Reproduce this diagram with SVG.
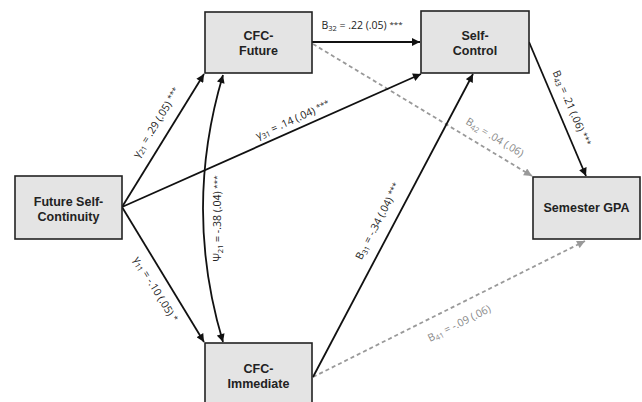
<svg xmlns="http://www.w3.org/2000/svg" width="642" height="402" viewBox="0 0 642 402">
<style>
.box{fill:#e4e4e4;stroke:#222;stroke-width:1.6}
.nt{font-family:"Liberation Sans",Arial,sans-serif;font-weight:bold;font-size:12.5px;fill:#222;text-anchor:middle}
.ln{fill:none;stroke:#111;stroke-width:1.8}
.dl{fill:none;stroke:#999;stroke-width:1.8;stroke-dasharray:4 3}
.lb{font-family:"Open Sans","Liberation Sans",sans-serif;font-size:10.5px;fill:#222;text-anchor:middle}
.lg{font-family:"Open Sans","Liberation Sans",sans-serif;font-size:10.5px;fill:#888;text-anchor:middle}
.sb{font-size:7.5px}
.st{font-size:8px}
</style>
<defs>
<marker id="ah" viewBox="0 0 10 10" refX="10" refY="5" markerWidth="9" markerHeight="8" markerUnits="userSpaceOnUse" orient="auto-start-reverse"><path d="M0,0 L10,5 L0,10 z" fill="#111"/></marker>
<marker id="ag" viewBox="0 0 10 10" refX="10" refY="5" markerWidth="9" markerHeight="8" markerUnits="userSpaceOnUse" orient="auto"><path d="M0,0 L10,5 L0,10 z" fill="#999"/></marker>
</defs>
<g id="connectors">
<path class="dl" d="M313,44 L532,176" marker-end="url(#ag)"/>
<path class="dl" d="M313,377 L585,241" marker-end="url(#ag)"/>
<path class="ln" d="M122,207 L204,74" marker-end="url(#ah)"/>
<path class="ln" d="M122,207 L421,74" marker-end="url(#ah)"/>
<path class="ln" d="M122,207 L204,342" marker-end="url(#ah)"/>
<path class="ln" d="M223,75 Q183,209 223,342" marker-start="url(#ah)" marker-end="url(#ah)"/>
<path class="ln" d="M312,42 L420,42" marker-end="url(#ah)"/>
<path class="ln" d="M529,42 L586,176" marker-end="url(#ah)"/>
<path class="ln" d="M313,377 L473,74" marker-end="url(#ah)"/>
<text class="lb" transform="translate(156,122.5) rotate(-58.3)" y="4">γ<tspan class="sb" dy="2">21</tspan><tspan dy="-2"> = .29 (.05) </tspan><tspan class="st" dy="-2">***</tspan></text>
<text class="lb" transform="translate(292.5,119.5) rotate(-24.1)" y="4">γ<tspan class="sb" dy="2">31</tspan><tspan dy="-2"> = .14 (.04) </tspan><tspan class="st" dy="-2">***</tspan></text>
<text class="lb" transform="translate(156,289) rotate(58.7)" y="4">γ<tspan class="sb" dy="2">11</tspan><tspan dy="-2"> = -.10 (.05) </tspan><tspan class="st" dy="-2">*</tspan></text>
<text class="lb" transform="translate(217,218.5) rotate(-90)" y="4">Ψ<tspan class="sb" dy="2">21</tspan><tspan dy="-2"> = -.38 (.04) </tspan><tspan class="st" dy="-2">***</tspan></text>
<text class="lb" x="362" y="29">B<tspan class="sb" dy="2">32</tspan><tspan dy="-2"> = .22 (.05) </tspan><tspan class="st" dy="-2">***</tspan></text>
<text class="lg" transform="translate(495,137) rotate(31.1)" y="4">B<tspan class="sb" dy="2">42</tspan><tspan dy="-2"> = .04 (.06)</tspan></text>
<text class="lb" transform="translate(572,108) rotate(67)" y="4">B<tspan class="sb" dy="2">43</tspan><tspan dy="-2"> = .21 (.06) </tspan><tspan class="st" dy="-2">***</tspan></text>
<text class="lb" transform="translate(377.5,221) rotate(-62.5)" y="4">B<tspan class="sb" dy="2">31</tspan><tspan dy="-2"> = -.34 (.04) </tspan><tspan class="st" dy="-2">***</tspan></text>
<text class="lg" transform="translate(459,323) rotate(-26.6)" y="4">B<tspan class="sb" dy="2">41</tspan><tspan dy="-2"> = -.09 (.06)</tspan></text>
</g>
<g id="future-self-continuity"><rect class="box" x="15" y="176" width="107" height="63"/><text class="nt" x="68.5" y="205.5">Future Self-</text><text class="nt" x="68.5" y="220.5">Continuity</text></g>
<g id="cfc-future"><rect class="box" x="205" y="12" width="107" height="61"/><text class="nt" x="258.5" y="39.5">CFC-</text><text class="nt" x="258.5" y="54.5">Future</text></g>
<g id="self-control"><rect class="box" x="421" y="11" width="108" height="62"/><text class="nt" x="475" y="40">Self-</text><text class="nt" x="475" y="54.5">Control</text></g>
<g id="semester-gpa"><rect class="box" x="533" y="177" width="107" height="62"/><text class="nt" x="586.5" y="212">Semester GPA</text></g>
<g id="cfc-immediate"><rect class="box" x="205" y="343" width="107" height="62"/><text class="nt" x="258.5" y="372.5">CFC-</text><text class="nt" x="258.5" y="387.5">Immediate</text></g>
</svg>
